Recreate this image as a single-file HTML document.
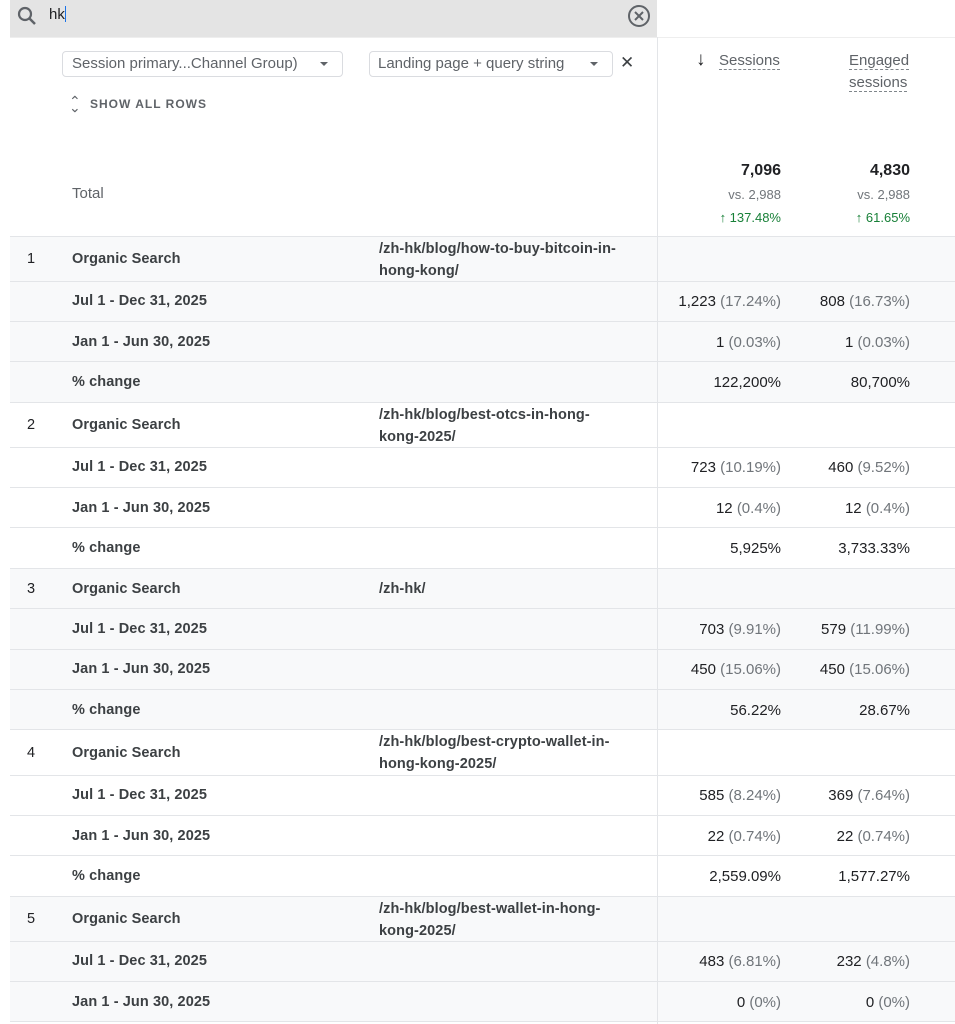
<!DOCTYPE html>
<html><head><meta charset="utf-8"><style>
*{margin:0;padding:0;box-sizing:border-box}
body{width:955px;height:1024px;background:#fff;font-family:"Liberation Sans",Arial,sans-serif;color:#202124;position:relative;overflow:hidden}
.abs{position:absolute}
.row{position:absolute;left:10px;width:945px;border-bottom:1px solid #e3e5e8}
.g{background:#f8f9fa}
.t{position:absolute;font-size:14.5px;white-space:nowrap}
.b{font-weight:bold;color:#3c4043;letter-spacing:0.1px}
.r{text-align:right;font-size:15px}
.m{color:#70757a}
.div{position:absolute;left:657px;width:1px;background:#e3e5e8}
</style></head><body>
<div class="abs" style="left:10px;top:0;width:647px;height:37px;background:#e4e4e4"></div>
<svg class="abs" style="left:15px;top:4px" width="24" height="24" viewBox="0 0 24 24"><circle cx="10" cy="10" r="6" fill="none" stroke="#5f6368" stroke-width="2.2"/><line x1="14.5" y1="14.5" x2="20" y2="20" stroke="#5f6368" stroke-width="2.5"/></svg>
<div class="t" style="left:49px;top:6px;font-size:15px;color:#202124">hk<span style="display:inline-block;width:1px;height:16px;background:#1a73e8;vertical-align:-3px"></span></div>
<svg class="abs" style="left:627px;top:4px" width="24" height="24" viewBox="0 0 24 24"><circle cx="12" cy="12" r="10" fill="none" stroke="#5f6368" stroke-width="2"/><path d="M8 8L16 16M16 8L8 16" stroke="#5f6368" stroke-width="2"/></svg>
<div class="abs" style="left:10px;top:37px;width:945px;height:1px;background:#eee"></div>
<div class="div" style="top:37px;height:987px"></div>
<div class="abs" style="left:62px;top:51px;width:281px;height:26px;border:1px solid #dadce0;border-radius:4px"></div>
<div class="t" style="left:72px;top:55px;color:#5f6368;font-size:15px">Session primary...Channel Group)</div>
<div class="abs" style="left:320px;top:62px;border-left:4px solid transparent;border-right:4px solid transparent;border-top:4px solid #5f6368"></div>
<div class="abs" style="left:369px;top:51px;width:244px;height:26px;border:1px solid #dadce0;border-radius:4px"></div>
<div class="t" style="left:378px;top:55px;color:#5f6368;font-size:15px">Landing page + query string</div>
<div class="abs" style="left:590px;top:62px;border-left:4px solid transparent;border-right:4px solid transparent;border-top:4px solid #5f6368"></div>
<div class="t" style="left:620px;top:53px;font-size:17px;color:#3c4043">✕</div>
<div class="t" style="left:69px;top:93px;font-size:14px;color:#5f6368">⌃</div>
<div class="t" style="left:69px;top:98px;font-size:14px;color:#5f6368;transform:scaleY(-1)">⌃</div>
<div class="t" style="left:90px;top:97px;font-size:12px;font-weight:bold;color:#5f6368;letter-spacing:1px">SHOW ALL ROWS</div>
<div class="t" style="left:696px;top:49px;font-size:19px;font-weight:bold">↓</div>
<div class="t m" style="left:719px;top:52px;font-size:15px;color:#5f6368;border-bottom:1px dashed #80868b">Sessions</div>
<div class="t" style="left:849px;top:52px;font-size:15px;color:#5f6368;border-bottom:1px dashed #80868b">Engaged</div>
<div class="t" style="left:849px;top:74px;font-size:15px;color:#5f6368;border-bottom:1px dashed #80868b">sessions</div>
<div class="t" style="left:72px;top:185px;color:#5f6368;font-size:15px">Total</div>
<div class="t r" style="right:174px;top:162px;font-size:16px;font-weight:bold;color:#202124">7,096</div>
<div class="t r m" style="right:174px;top:187px;font-size:13px">vs. 2,988</div>
<div class="t r" style="right:174px;top:210px;font-size:13px;color:#188038">↑ 137.48%</div>
<div class="t r" style="right:45px;top:162px;font-size:16px;font-weight:bold;color:#202124">4,830</div>
<div class="t r m" style="right:45px;top:187px;font-size:13px">vs. 2,988</div>
<div class="t r" style="right:45px;top:210px;font-size:13px;color:#188038">↑ 61.65%</div>
<div class="abs" style="left:10px;top:236px;width:945px;height:1px;background:#e3e5e8"></div>

<div class="row g" style="top:237px;height:45px"></div>
<div class="row g" style="top:282px;height:40px"></div>
<div class="row g" style="top:322px;height:40px"></div>
<div class="row g" style="top:362px;height:41px"></div>
<div class="row" style="top:403px;height:45px"></div>
<div class="row" style="top:448px;height:40px"></div>
<div class="row" style="top:488px;height:40px"></div>
<div class="row" style="top:528px;height:41px"></div>
<div class="row g" style="top:569px;height:40px"></div>
<div class="row g" style="top:609px;height:41px"></div>
<div class="row g" style="top:650px;height:40px"></div>
<div class="row g" style="top:690px;height:40px"></div>
<div class="row" style="top:730px;height:46px"></div>
<div class="row" style="top:776px;height:40px"></div>
<div class="row" style="top:816px;height:40px"></div>
<div class="row" style="top:856px;height:41px"></div>
<div class="row g" style="top:897px;height:45px"></div>
<div class="row g" style="top:942px;height:40px"></div>
<div class="row g" style="top:982px;height:40px"></div>
<div class="div" style="top:237px;height:787px"></div>

<div class="t" style="left:27px;top:251px">1</div><div class="t b" style="left:72px;top:251px">Organic Search</div>
<div class="t b" style="left:379px;top:238px;line-height:22px">/zh-hk/blog/how-to-buy-bitcoin-in-<br>hong-kong/</div>
<div class="t b" style="left:72px;top:293px">Jul 1 - Dec 31, 2025</div>
<div class="t r" style="right:174px;top:293px">1,223 <span class="m">(17.24%)</span></div><div class="t r" style="right:45px;top:293px">808 <span class="m">(16.73%)</span></div>
<div class="t b" style="left:72px;top:334px">Jan 1 - Jun 30, 2025</div>
<div class="t r" style="right:174px;top:334px">1 <span class="m">(0.03%)</span></div><div class="t r" style="right:45px;top:334px">1 <span class="m">(0.03%)</span></div>
<div class="t b" style="left:72px;top:374px">% change</div>
<div class="t r" style="right:174px;top:374px">122,200%</div><div class="t r" style="right:45px;top:374px">80,700%</div>

<div class="t" style="left:27px;top:417px">2</div><div class="t b" style="left:72px;top:417px">Organic Search</div>
<div class="t b" style="left:379px;top:404px;line-height:22px">/zh-hk/blog/best-otcs-in-hong-<br>kong-2025/</div>
<div class="t b" style="left:72px;top:459px">Jul 1 - Dec 31, 2025</div>
<div class="t r" style="right:174px;top:459px">723 <span class="m">(10.19%)</span></div><div class="t r" style="right:45px;top:459px">460 <span class="m">(9.52%)</span></div>
<div class="t b" style="left:72px;top:500px">Jan 1 - Jun 30, 2025</div>
<div class="t r" style="right:174px;top:500px">12 <span class="m">(0.4%)</span></div><div class="t r" style="right:45px;top:500px">12 <span class="m">(0.4%)</span></div>
<div class="t b" style="left:72px;top:540px">% change</div>
<div class="t r" style="right:174px;top:540px">5,925%</div><div class="t r" style="right:45px;top:540px">3,733.33%</div>

<div class="t" style="left:27px;top:581px">3</div><div class="t b" style="left:72px;top:581px">Organic Search</div>
<div class="t b" style="left:379px;top:581px">/zh-hk/</div>
<div class="t b" style="left:72px;top:621px">Jul 1 - Dec 31, 2025</div>
<div class="t r" style="right:174px;top:621px">703 <span class="m">(9.91%)</span></div><div class="t r" style="right:45px;top:621px">579 <span class="m">(11.99%)</span></div>
<div class="t b" style="left:72px;top:661px">Jan 1 - Jun 30, 2025</div>
<div class="t r" style="right:174px;top:661px">450 <span class="m">(15.06%)</span></div><div class="t r" style="right:45px;top:661px">450 <span class="m">(15.06%)</span></div>
<div class="t b" style="left:72px;top:702px">% change</div>
<div class="t r" style="right:174px;top:702px">56.22%</div><div class="t r" style="right:45px;top:702px">28.67%</div>

<div class="t" style="left:27px;top:745px">4</div><div class="t b" style="left:72px;top:745px">Organic Search</div>
<div class="t b" style="left:379px;top:731px;line-height:22px">/zh-hk/blog/best-crypto-wallet-in-<br>hong-kong-2025/</div>
<div class="t b" style="left:72px;top:787px">Jul 1 - Dec 31, 2025</div>
<div class="t r" style="right:174px;top:787px">585 <span class="m">(8.24%)</span></div><div class="t r" style="right:45px;top:787px">369 <span class="m">(7.64%)</span></div>
<div class="t b" style="left:72px;top:828px">Jan 1 - Jun 30, 2025</div>
<div class="t r" style="right:174px;top:828px">22 <span class="m">(0.74%)</span></div><div class="t r" style="right:45px;top:828px">22 <span class="m">(0.74%)</span></div>
<div class="t b" style="left:72px;top:868px">% change</div>
<div class="t r" style="right:174px;top:868px">2,559.09%</div><div class="t r" style="right:45px;top:868px">1,577.27%</div>

<div class="t" style="left:27px;top:911px">5</div><div class="t b" style="left:72px;top:911px">Organic Search</div>
<div class="t b" style="left:379px;top:898px;line-height:22px">/zh-hk/blog/best-wallet-in-hong-<br>kong-2025/</div>
<div class="t b" style="left:72px;top:953px">Jul 1 - Dec 31, 2025</div>
<div class="t r" style="right:174px;top:953px">483 <span class="m">(6.81%)</span></div><div class="t r" style="right:45px;top:953px">232 <span class="m">(4.8%)</span></div>
<div class="t b" style="left:72px;top:994px">Jan 1 - Jun 30, 2025</div>
<div class="t r" style="right:174px;top:994px">0 <span class="m">(0%)</span></div><div class="t r" style="right:45px;top:994px">0 <span class="m">(0%)</span></div>
</body></html>
